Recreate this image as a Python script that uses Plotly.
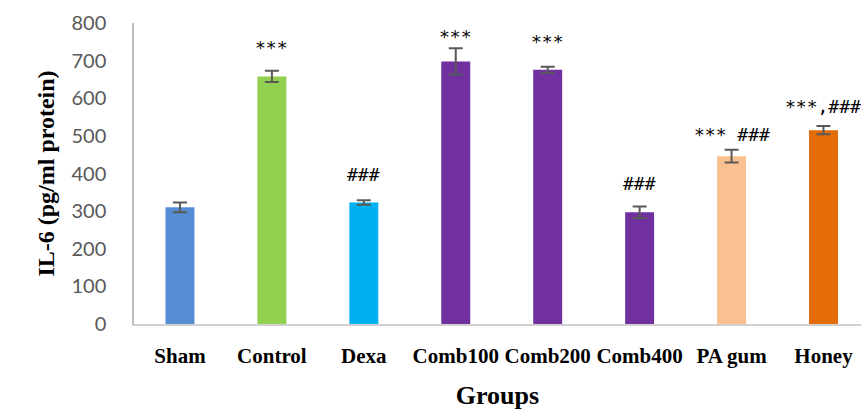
import plotly.graph_objects as go

# IL-6 levels per treatment group
groups = ["Sham", "Control", "Dexa", "Comb100", "Comb200", "Comb400", "PA gum", "Honey"]
il6 = [310, 658, 323, 698, 676, 297, 446, 515]
sem = [13, 15, 6, 35, 8, 15, 17, 11]
colors = ["#558ED5", "#92D050", "#00B0F0", "#7030A0", "#7030A0", "#7030A0", "#FAC090", "#E36C09"]

# significance marks and their heights
marks = ["", "***", "###", "***", "***", "###", "*** ###", "***,###"]
mark_y = [0, 735, 398, 764, 751, 374, 504, 578]

y_ticks = [0, 100, 200, 300, 400, 500, 600, 700, 800]

x = list(range(len(groups)))

fig = go.Figure()
fig.add_trace(go.Bar(
    x=x, y=il6,
    marker=dict(color=colors, line=dict(width=0)),
    error_y=dict(type="data", array=sem, visible=True, color="#595959",
                 thickness=2, width=7),
    width=0.315,
    showlegend=False,
))

for xi, m, my in zip(x, marks, mark_y):
    if m:
        fig.add_annotation(x=xi, y=my, text=m, showarrow=False,
                           xanchor="center", yanchor="middle",
                           font=dict(family="DejaVu Sans Mono", size=18, color="#000000"))

fig.update_layout(
    width=861, height=410,
    margin=dict(l=133.5, r=0, t=22.5, b=86),
    paper_bgcolor="white", plot_bgcolor="white",
    xaxis=dict(
        range=[-0.5, 7.408],
        tickmode="array", tickvals=x,
        ticktext=[f"<b>{g}</b>" for g in groups],
        tickfont=dict(family="Liberation Serif", size=21, color="#000000"),
        showline=True, linecolor="#D0D0D0", linewidth=1.5,
        showgrid=False, zeroline=False, ticks="",
        ticklabelstandoff=12,
        title=dict(text="<b>Groups</b>", standoff=22,
                   font=dict(family="Liberation Serif", size=26, color="#000000")),
    ),
    yaxis=dict(
        range=[0, 800],
        tickmode="array", tickvals=y_ticks,
        tickfont=dict(family="Lato", size=20, color="#595959"),
        showline=True, linecolor="#BFBFBF", linewidth=1.5,
        showgrid=False, zeroline=False, ticks="",
        ticklabelstandoff=22,
        title=dict(text="<b>IL-6 (pg/ml protein)</b>", standoff=10,
                   font=dict(family="Liberation Serif", size=24, color="#000000")),
    ),
)

fig.write_html("out.html")
